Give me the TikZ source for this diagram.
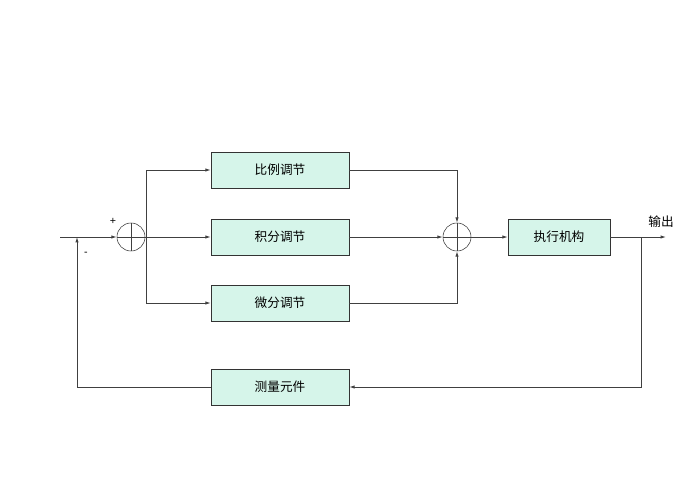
\documentclass[tikz,border=0pt]{standalone}
\usepackage{fontspec}
\setmainfont{Liberation Sans}
\newfontfamily\cjk{Noto Sans CJK SC}
\usetikzlibrary{arrows.meta}
\definecolor{boxfill}{HTML}{D6F5EA}
\begin{document}
\begin{tikzpicture}[x=0.75pt,y=-0.75pt,
  blk/.style={draw=black!80,fill=boxfill,minimum width=103.5pt,minimum height=27pt,inner sep=0pt,font=\cjk\fontsize{9.5}{11}\selectfont},
  sum/.style={draw=black!80,circle,minimum size=21pt,inner sep=0pt},
  ln/.style={draw=black!75,line width=0.6pt},
  ar/.style={ln,-{Latex[length=4pt,width=2.5pt]}}]
\useasboundingbox (0,0) rectangle (696,500);
\node[sum] (s1) at (131,237) {};
\draw[ln] (s1.north) -- (s1.south) (s1.west) -- (s1.east);
\node[sum] (s2) at (457,237) {};
\draw[ln] (s2.north) -- (s2.south) (s2.west) -- (s2.east);
\node[blk] (p) at (280,170) {比例调节};
\node[blk] (i) at (280,237) {积分调节};
\node[blk] (d) at (280,303) {微分调节};
\node[blk,minimum width=76.5pt] (act) at (559,237) {执行机构};
\node[blk] (m) at (280,387) {测量元件};
\coordinate (in) at (60,237);
\coordinate (out) at (666,237);
\coordinate (br) at (146,237);
\coordinate (fb) at (641,237);
\coordinate (fl) at (77,237);
\node[font=\fontsize{8}{9}\selectfont] (plus) at (113,221) {+};
\node[font=\fontsize{8}{9}\selectfont] (minus) at (86,254) {-};
\node[font=\cjk\fontsize{9.5}{11}\selectfont] (outl) at (661,222) {输出};
\draw[ar] (in) -- (s1.west);
\draw[ln] (s1.east) -- (br);
\draw[ar] (br) -- (i.west);
\draw[ar] (br) |- (p.west);
\draw[ar] (br) |- (d.west);
\draw[ar] (p.east) -| (s2.north);
\draw[ar] (i.east) -- (s2.west);
\draw[ar] (d.east) -| (s2.south);
\draw[ar] (s2.east) -- (act.west);
\draw[ar] (act.east) -- (out);
\draw[ar] (fb) |- (m.east);
\draw[ar] (m.west) -| (fl);
\end{tikzpicture}
\end{document}
